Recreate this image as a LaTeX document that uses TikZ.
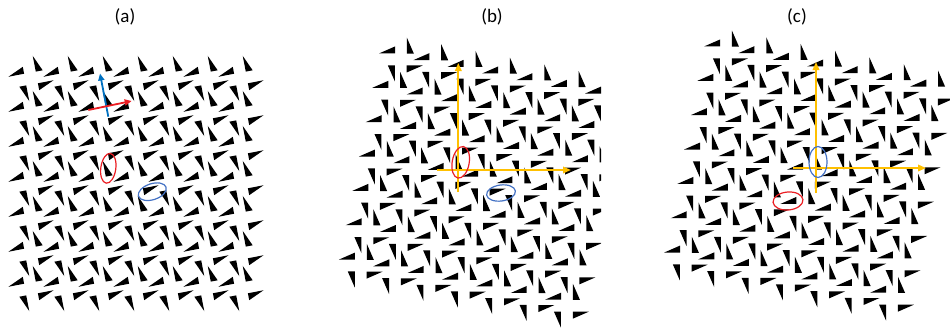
\documentclass[tikz,border=0pt]{standalone}
\usepackage{fontspec}
\setmainfont{Carlito}
\usetikzlibrary{arrows.meta}
\definecolor{axisyellow}{RGB}{255,192,0}
\definecolor{vecblue}{RGB}{0,112,192}
\definecolor{vecred}{RGB}{235,30,35}
\definecolor{ringblue}{RGB}{68,114,196}
\tikzset{
  tri/.style={fill=black,draw=none},
  ring/.style={line width=1.2pt},
  vecarrow/.style={line width=1.8pt,-{Triangle[length=7pt,width=6pt]}},
  axisarrow/.style={axisyellow,line width=1.8pt,-{Triangle[length=8pt,width=6.5pt]}},
  lbl/.style={font=\fontsize{19}{19}\selectfont,inner sep=0pt}
}
\newcommand\drawlattice{%
  \foreach \m in {0,...,7}{%
    \foreach \n in {0,...,7}{%
      \begin{scope}[shift={(13.5+35*\m,-61-35*\n)},rotate=11]
        \ifnum\m>0 \ifnum\n>0 \fill[tri] (-8,14.5) -- (8,14.5) -- (-8,7.5) -- cycle; \fi\fi
        \ifnum\m<7 \ifnum\n>0 \fill[tri] (14.5,8) -- (14.5,-8) -- (7.5,8) -- cycle; \fi\fi
        \ifnum\m<7 \ifnum\n<7 \fill[tri] (8,-14.5) -- (-8,-14.5) -- (8,-7.5) -- cycle; \fi\fi
        \ifnum\m>0 \ifnum\n<7 \fill[tri] (-14.5,-8) -- (-14.5,8) -- (-7.5,-8) -- cycle; \fi\fi
      \end{scope}
    }%
  }%
}
\begin{document}
\begin{tikzpicture}[x=1pt,y=1pt]
\useasboundingbox (0,0) rectangle (950,-332);
% labels
\node[lbl] (la) at (125,-17) {(a)};
\node[lbl] (lb) at (492,-17) {(b)};
\node[lbl] (lc) at (797,-17) {(c)};
% panel (a)
\drawlattice
\coordinate (aBs) at (108.3,-116.7);
\coordinate (aBe) at (100,-73.5);
\coordinate (aRs) at (88.3,-110);
\coordinate (aRe) at (131.7,-101);
\draw[vecarrow,vecblue] (aBs) -- (aBe);
\draw[vecarrow,vecred] (aRs) -- (aRe);
\draw[ring,vecred,rotate around={-8:(108.3,-168.3)}] (108.3,-168.3) ellipse [x radius=7.5pt,y radius=15pt];
\draw[ring,ringblue,rotate around={18:(152.3,-191.7)}] (152.3,-191.7) ellipse [x radius=14.5pt,y radius=8pt];
% panel (b)
\begin{scope}
  \clip (330,0) rectangle (601,-332);
  \begin{scope}[shift={(385.4,23.5)},rotate=-11]
    \drawlattice
  \end{scope}
\end{scope}
\coordinate (bYs) at (458.3,-192);
\coordinate (bYe) at (458.3,-63);
\coordinate (bXs) at (437,-170);
\coordinate (bXe) at (571,-170);
\draw[axisarrow] (bYs) -- (bYe);
\draw[axisarrow] (bXs) -- (bXe);
\draw[ring,vecred,rotate around={-10:(460.7,-162.3)}] (460.7,-162.3) ellipse [x radius=8.5pt,y radius=16pt];
\draw[ring,ringblue,rotate around={8:(501,-193)}] (501,-193) ellipse [x radius=14.5pt,y radius=8pt];
% panel (c)
\begin{scope}[shift={(710.5,30.5)},rotate=-11]
  \drawlattice
\end{scope}
\coordinate (cYs) at (816,-193);
\coordinate (cYe) at (816,-62);
\coordinate (cXs) at (793,-168);
\coordinate (cXe) at (926,-168);
\draw[axisarrow] (cYs) -- (cYe);
\draw[axisarrow] (cXs) -- (cXe);
\draw[ring,ringblue] (818,-162) ellipse [x radius=9pt,y radius=15.5pt];
\draw[ring,vecred,rotate around={5:(788,-201)}] (788,-201) ellipse [x radius=15pt,y radius=9pt];
\end{tikzpicture}
\end{document}
